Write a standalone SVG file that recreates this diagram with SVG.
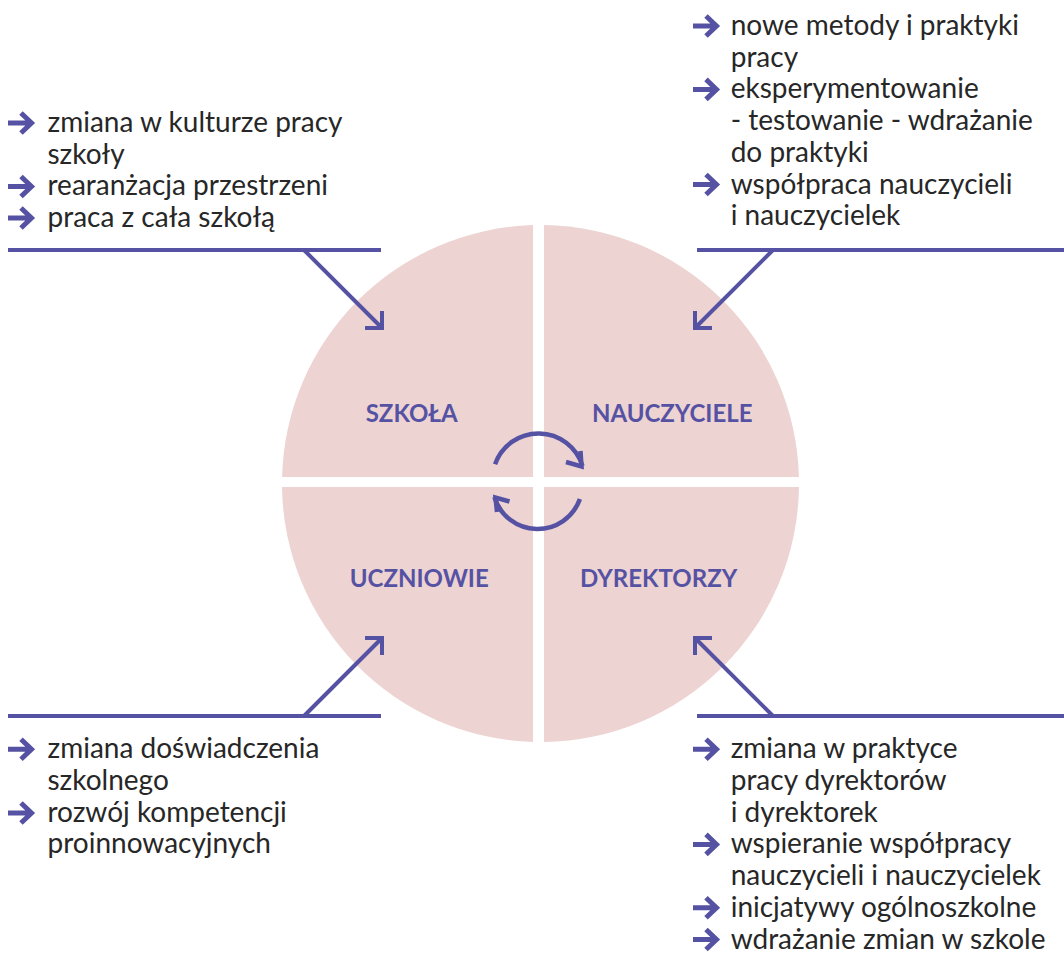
<svg xmlns="http://www.w3.org/2000/svg" xmlns:xlink="http://www.w3.org/1999/xlink" width="1064" height="953" viewBox="0 0 1064 953">
<style>
.q{fill:#EDD3D2;stroke:none}
.lbl{font-family:Lato,"Liberation Sans",sans-serif;font-weight:bold;font-size:24px;fill:#5652A3;text-anchor:middle}
.t{font-family:Lato,"Liberation Sans",sans-serif;font-size:28px;fill:#272727}
.ln{stroke:#5652A3;stroke-width:4;fill:none}
.cyc{stroke:#5652A3;stroke-width:4.5;fill:none}
.bul{stroke:#5652A3;stroke-width:5;fill:none;stroke-linejoin:miter}
</style>
<defs>
<path id="b" class="bul" d="M8,0 H31 M21,-10 L31.5,0 L21,10"/>
</defs>
<rect width="1064" height="953" fill="#fff"/>

<g id="node-szkola">
<path class="q" d="M282.08,477 A258.5,258.5 0 0 1 533,225.11 L533,477 Z"/>
<text class="lbl" x="411.7" y="421.7">SZKOŁA</text>
</g>
<g id="node-nauczyciele">
<path class="q" d="M544,225.02 A258.5,258.5 0 0 1 798.92,477 L544,477 Z"/>
<text class="lbl" x="672.2" y="421.7">NAUCZYCIELE</text>
</g>
<g id="node-uczniowie">
<path class="q" d="M282.02,487 L533,487 L533,741.89 A258.5,258.5 0 0 1 282.02,487 Z"/>
<text class="lbl" x="419.3" y="586.8">UCZNIOWIE</text>
</g>
<g id="node-dyrektorzy">
<path class="q" d="M544,487 L798.98,487 A258.5,258.5 0 0 1 544,741.98 Z"/>
<text class="lbl" x="658.7" y="586.8">DYREKTORZY</text>
</g>

<g id="cycle">
<path class="cyc" d="M495.1,464.3 A46,46 0 0 1 582.5,466"/>
<path class="cyc" d="M566,462 L581.5,466.5 L580.5,451"/>
<path class="cyc" d="M579.9,499 A45,45 0 0 1 494.4,497"/>
<path class="cyc" d="M497,512 L495.5,497.5 L509.5,501.5"/>
</g>

<g id="connectors">
<path class="ln" d="M8,250 H381 M304,250 L382,328 M382,311 V328 H365"/>
<path class="ln" d="M697,250 H1064 M773,250 L695,328 M695,311 V328 H712"/>
<path class="ln" d="M8,716 H381 M304,716 L382,638 M382,655 V638 H365"/>
<path class="ln" d="M697,716 H1064 M773,716 L695,638 M695,655 V638 H712"/>
</g>

<g id="text-szkola">
<use xlink:href="#b" x="0" y="123"/>
<use xlink:href="#b" x="0" y="186.5"/>
<use xlink:href="#b" x="0" y="218"/>
<text class="t" x="47.5" y="132">zmiana w kulturze pracy</text>
<text class="t" x="47.5" y="163.5">szkoły</text>
<text class="t" x="47.5" y="195">rearanżacja przestrzeni</text>
<text class="t" x="47.5" y="226.5">praca z cała szkołą</text>
</g>

<g id="text-nauczyciele">
<use xlink:href="#b" x="685" y="26"/>
<use xlink:href="#b" x="685" y="89.4"/>
<use xlink:href="#b" x="685" y="184.5"/>
<text class="t" x="730.7" y="35">nowe metody i praktyki</text>
<text class="t" x="730.7" y="66.7">pracy</text>
<text class="t" x="730.7" y="98.4">eksperymentowanie</text>
<text class="t" x="730.7" y="130.1">- testowanie - wdrażanie</text>
<text class="t" x="730.7" y="161.8">do praktyki</text>
<text class="t" x="730.7" y="193.5">współpraca nauczycieli</text>
<text class="t" x="730.7" y="225.2">i nauczycielek</text>
</g>

<g id="text-uczniowie">
<use xlink:href="#b" x="0" y="749.3"/>
<use xlink:href="#b" x="0" y="813"/>
<text class="t" x="47.5" y="758.3">zmiana doświadczenia</text>
<text class="t" x="47.5" y="790">szkolnego</text>
<text class="t" x="47.5" y="821.7">rozwój kompetencji</text>
<text class="t" x="47.5" y="853.4">proinnowacyjnych</text>
</g>

<g id="text-dyrektorzy">
<use xlink:href="#b" x="685" y="749.3"/>
<use xlink:href="#b" x="685" y="844.4"/>
<use xlink:href="#b" x="685" y="907.8"/>
<use xlink:href="#b" x="685" y="939.5"/>
<text class="t" x="730.7" y="758.3">zmiana w praktyce</text>
<text class="t" x="730.7" y="790">pracy dyrektorów</text>
<text class="t" x="730.7" y="821.7">i dyrektorek</text>
<text class="t" x="730.7" y="853.4">wspieranie współpracy</text>
<text class="t" x="730.7" y="885.1">nauczycieli i nauczycielek</text>
<text class="t" x="730.7" y="916.8">inicjatywy ogólnoszkolne</text>
<text class="t" x="730.7" y="948.5">wdrażanie zmian w szkole</text>
</g>
</svg>
